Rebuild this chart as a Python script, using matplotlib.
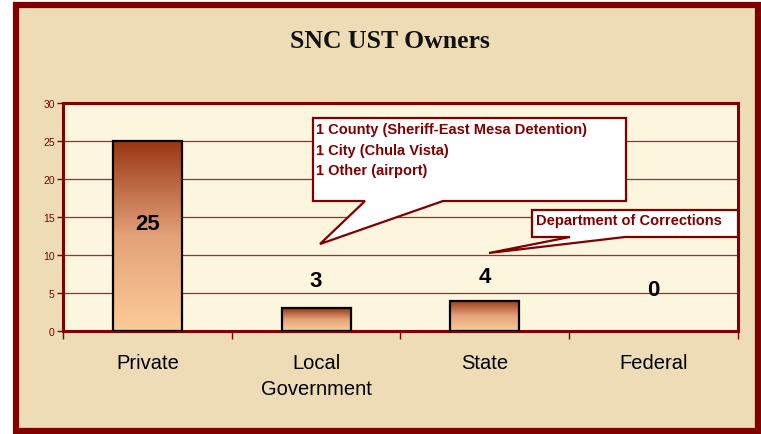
import numpy as np
import matplotlib.pyplot as plt
from matplotlib.patches import Rectangle, Polygon
from matplotlib.colors import LinearSegmentedColormap

categories = ['Private', 'Local\nGovernment', 'State', 'Federal']
owners = [25, 3, 4, 0]
label_offsets = [-83, 28, 24, 42]  # px from bar top to value label centre
title = 'SNC UST Owners'
callout_local = ['1 County (Sheriff-East Mesa Detention)', '1 City (Chula Vista)', '1 Other (airport)']
callout_state = 'Department of Corrections'

dark_red = '#800000'
W, H = 761, 435

fig = plt.figure(figsize=(W / 100, H / 100), dpi=100, facecolor='white')


def px(x, y):
    return (x / W, 1 - y / H)


# outer frame with beige background
fig.patches.append(Rectangle(px(16, 432), 742 / W, 426 / H, transform=fig.transFigure,
                             facecolor='#EEDCB6', edgecolor=dark_red, linewidth=4.5, zorder=-5))

fig.text(*px(390, 42), title, ha='center', va='center', fontsize=18.5, fontweight='bold',
         family='Liberation Serif', color='#111111')

ax = fig.add_axes([63 / W, 1 - 332 / H, (738 - 63) / W, (332 - 104) / H])
ax.set_zorder(1)
ax.set_facecolor('#FDF6DF')
x = np.arange(len(categories))
ax.set_xlim(-0.5, len(categories) - 0.5)
ax.set_ylim(0, 30)

for v in [5, 10, 15, 20, 25]:
    ax.axhline(v, color='#A8282A', linewidth=0.9, zorder=1)

cmap = LinearSegmentedColormap.from_list('bar', ['#FCCB98', '#E3A27A', '#9A3614'])
grad = np.linspace(0, 1, 256).reshape(-1, 1)
bars = ax.bar(x, owners, width=0.41, facecolor='none', edgecolor='black', linewidth=1.6, zorder=3)
for b in bars:
    h = b.get_height()
    if h <= 0:
        b.set_linewidth(0)
        continue
    x0 = b.get_x()
    im = ax.imshow(grad, cmap=cmap, aspect='auto', origin='lower',
                   extent=[x0, x0 + b.get_width(), 0, h], zorder=2)
    im.set_clip_path(b)

for xi, v, off in zip(x, owners, label_offsets):
    ax.annotate(str(v), (xi, v), xytext=(0, off * 0.72), textcoords='offset points',
                ha='center', va='center', fontsize=16, fontweight='bold',
                family='Liberation Sans', color='black', zorder=5)

ax.set_xticks(x)
ax.set_xticklabels(categories, fontsize=14.5, family='Liberation Sans', color='black',
                   linespacing=1.45)
ax.tick_params(axis='x', length=0, pad=16)
ax.set_xticks(np.arange(len(categories) + 1) - 0.5, minor=True)
ax.tick_params(axis='x', which='minor', length=6, color=dark_red, width=1)
ax.set_yticks(range(0, 31, 5))
ax.tick_params(axis='y', length=4, color=dark_red, width=1, labelsize=7.5, labelcolor=dark_red, pad=2)
for lab in ax.get_yticklabels():
    lab.set_family('Liberation Sans')
for s in ax.spines.values():
    s.set_color(dark_red)
    s.set_linewidth(2.2)

# callouts drawn in pixel coordinates of the figure
box1 = [(313, 119), (626, 119), (626, 202), (443, 202), (320, 245), (365, 202), (313, 202)]
fig.patches.append(Polygon([px(*p) for p in box1], closed=True, transform=fig.transFigure,
                           facecolor='white', edgecolor=dark_red, linewidth=1.6, zorder=10))
for i, line in enumerate(callout_local):
    fig.text(*px(316, 130 + i * 20.5), line, ha='left', va='center', fontsize=10.5, fontweight='bold',
             family='Liberation Sans', color=dark_red, zorder=11)

box2 = [(532, 211), (738, 211), (738, 238), (625, 238), (489, 254), (570, 238), (532, 238)]
fig.patches.append(Polygon([px(*p) for p in box2], closed=True, transform=fig.transFigure,
                           facecolor='white', edgecolor=dark_red, linewidth=1.6, zorder=10))
fig.text(*px(536, 221), callout_state, ha='left', va='center', fontsize=10.5, fontweight='bold',
         family='Liberation Sans', color=dark_red, zorder=11)

fig.savefig('out.png', dpi=100, facecolor='white')
